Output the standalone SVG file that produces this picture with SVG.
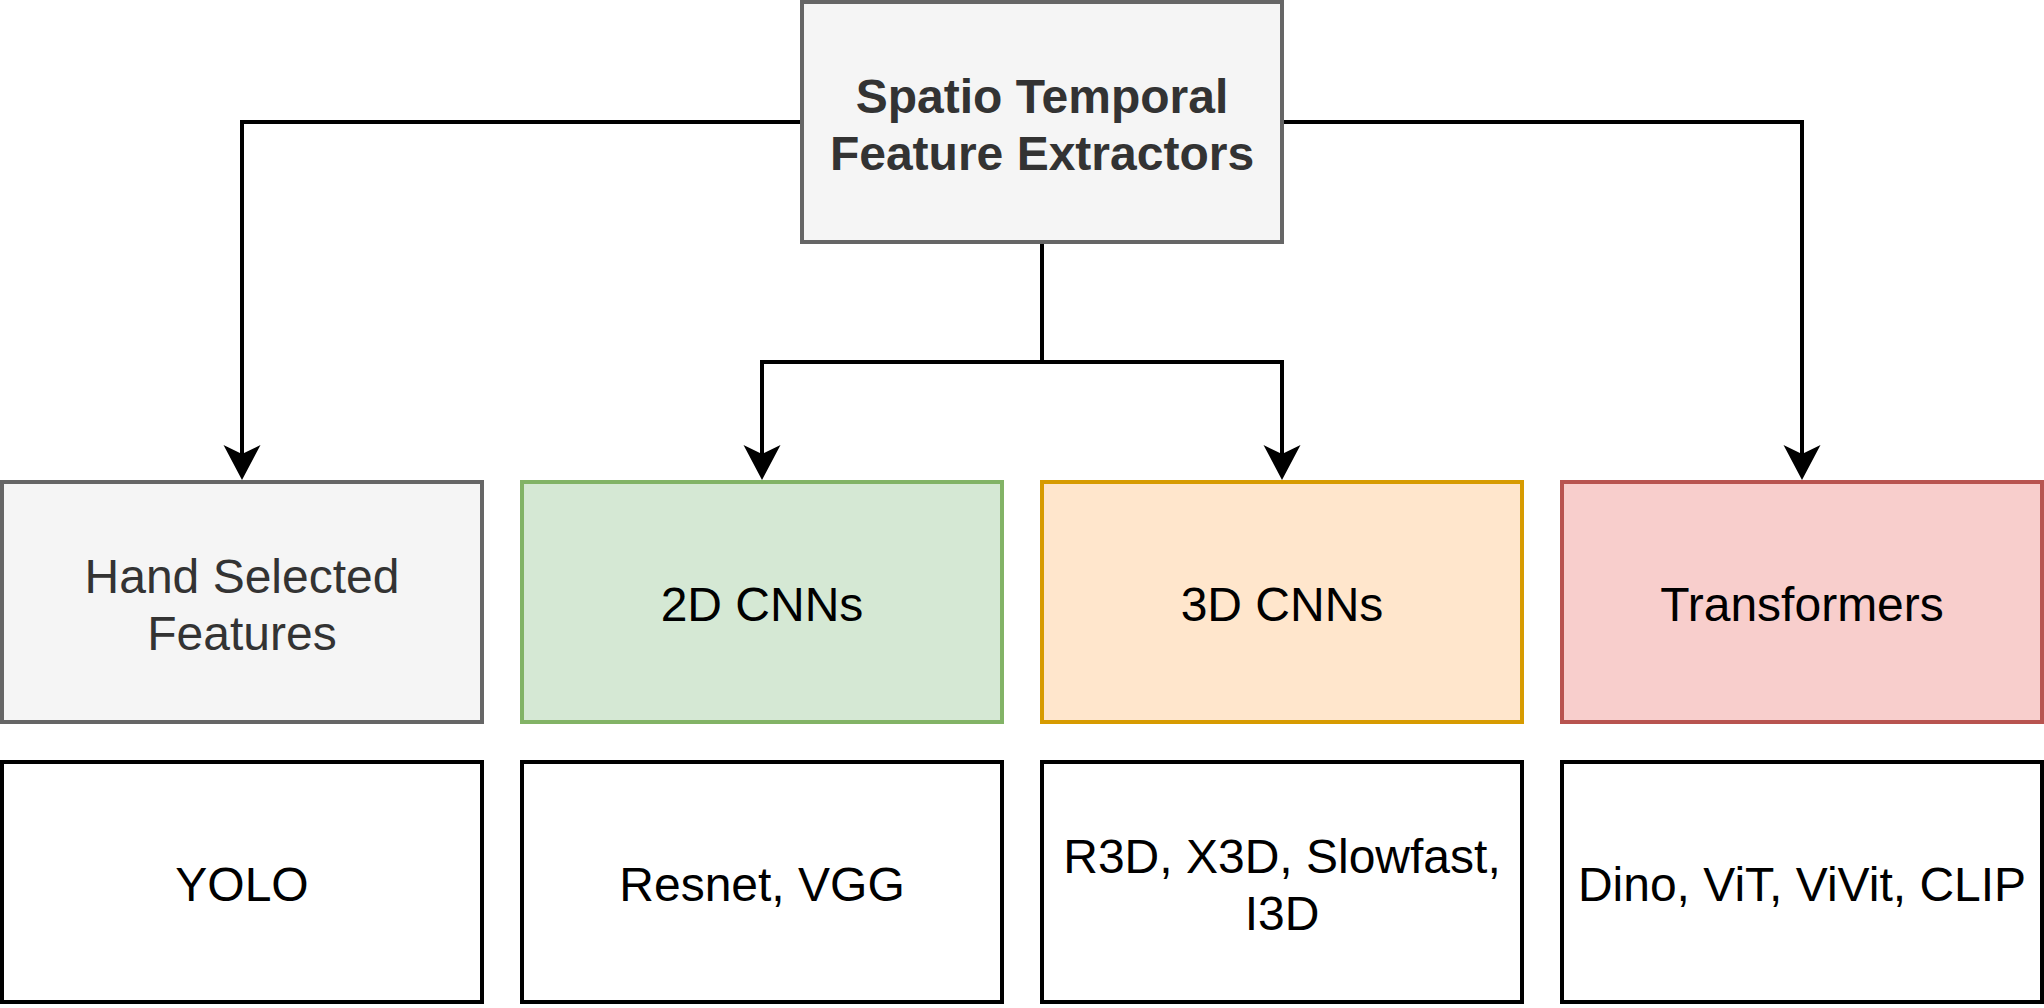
<svg xmlns="http://www.w3.org/2000/svg" width="2044" height="1008" viewBox="0 0 2044 1008">
<style>
  .box { stroke-width: 4; }
  .grey { fill: #f5f5f5; stroke: #666666; }
  .green { fill: #d5e8d4; stroke: #82b366; }
  .orange { fill: #ffe6cc; stroke: #d79b00; }
  .red { fill: #f8cecc; stroke: #b85450; }
  .plain { fill: #ffffff; stroke: #000000; }
  text { font-family: "Liberation Sans", Arial, Helvetica, sans-serif; font-size: 48px; text-anchor: middle; fill: #000000; }
  .dark { fill: #333333; }
  .bold { font-weight: bold; }
  .conn { fill: none; stroke: #000000; stroke-width: 4; marker-end: url(#arrow); }
</style>
<defs>
  <marker id="arrow" markerUnits="userSpaceOnUse" markerWidth="36" markerHeight="38" refX="11" refY="18.5" orient="auto" overflow="visible">
    <path d="M0,0 L35,18.5 L0,37 L9,18.5 Z" fill="#000000" stroke="none"/>
  </marker>
</defs>
<rect width="2044" height="1008" fill="#ffffff"/>
<g id="connectors">
  <path class="conn" d="M802,122 H242 V456"/>
  <path class="conn" d="M1282,122 H1802 V456"/>
  <path class="conn" d="M1042,242 V362 H762 V456"/>
  <path class="conn" d="M1042,362 H1282 V456"/>
</g>
<g id="root">
  <rect class="box grey" x="802" y="2" width="480" height="240"/>
  <text class="dark bold" x="1042" y="112.6">Spatio Temporal</text>
  <text class="dark bold" x="1042" y="170.2">Feature Extractors</text>
</g>
<g id="hand">
  <rect class="box grey" x="2" y="482" width="480" height="240"/>
  <text class="dark" x="242" y="592.6">Hand Selected</text>
  <text class="dark" x="242" y="650.2">Features</text>
</g>
<g id="cnn2d">
  <rect class="box green" x="522" y="482" width="480" height="240"/>
  <text x="762" y="621.4">2D CNNs</text>
</g>
<g id="cnn3d">
  <rect class="box orange" x="1042" y="482" width="480" height="240"/>
  <text x="1282" y="621.4">3D CNNs</text>
</g>
<g id="transformers">
  <rect class="box red" x="1562" y="482" width="480" height="240"/>
  <text x="1802" y="621.4">Transformers</text>
</g>
<g id="yolo">
  <rect class="box plain" x="2" y="762" width="480" height="240"/>
  <text x="242" y="901.4">YOLO</text>
</g>
<g id="resnet">
  <rect class="box plain" x="522" y="762" width="480" height="240"/>
  <text x="762" y="901.4">Resnet, VGG</text>
</g>
<g id="r3d">
  <rect class="box plain" x="1042" y="762" width="480" height="240"/>
  <text x="1282" y="872.6">R3D, X3D, Slowfast,</text>
  <text x="1282" y="930.2">I3D</text>
</g>
<g id="dino">
  <rect class="box plain" x="1562" y="762" width="480" height="240"/>
  <text x="1802" y="901.4">Dino, ViT, ViVit, CLIP</text>
</g>
</svg>
